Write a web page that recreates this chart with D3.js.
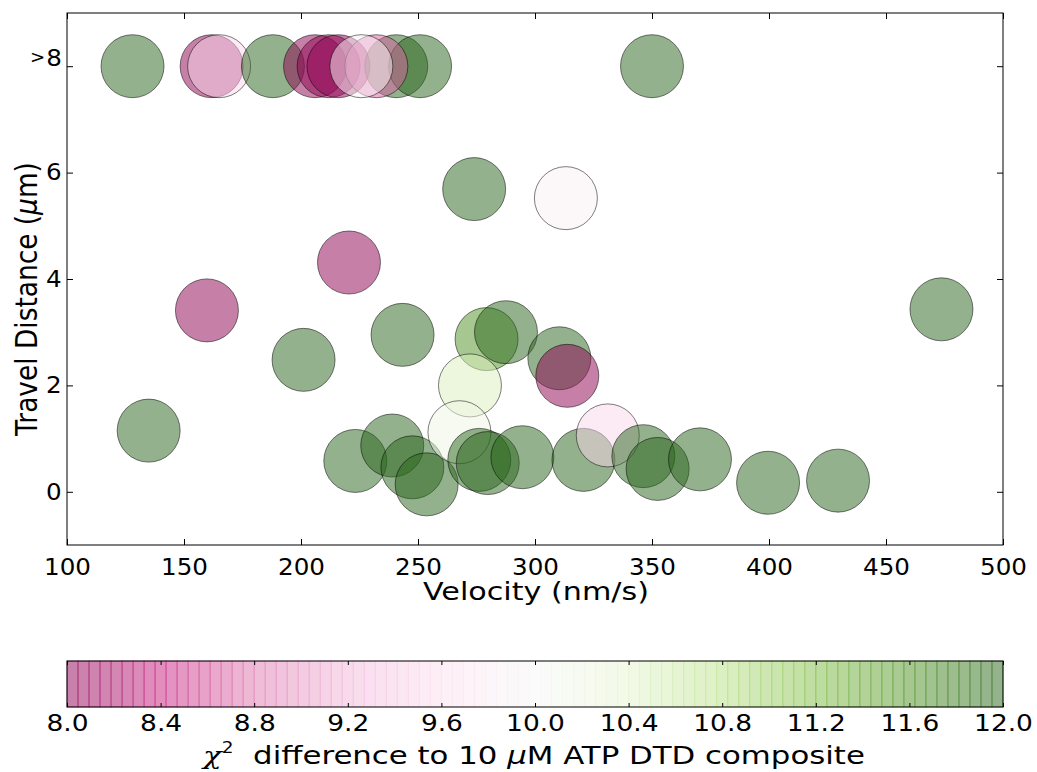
<!DOCTYPE html>
<html>
<head>
<meta charset="utf-8">
<script src="https://cdn.jsdelivr.net/npm/d3@7"></script>
<style>
  body { margin: 0; background: #fff; }
  text { font-family: "DejaVu Sans", sans-serif; fill: #000; }
</style>
</head>
<body>
<script>
// velocity (nm/s), travel distance (um, >8 shown at 8), chi^2 difference
var velocity = [128, 161.8, 165, 188, 206, 211.8, 216, 240.7, 250.9, 232.2, 225.8, 350,
  274, 313.2, 220.5, 159.8, 473.7, 243.4, 201.1, 134.9, 279.3, 287.6, 310.4, 313.8, 272.2,
  223.2, 239, 247.6, 253.7, 267.7, 276.2, 279.8, 294.6, 320.7, 331.1, 346.3, 352.4, 370.5, 399.6, 429.5];
var distance = [8, 8, 8, 8, 8, 8, 8, 8, 8, 8, 8, 8,
  5.69, 5.52, 4.31, 3.41, 3.43, 2.95, 2.48, 1.15, 2.87, 3.0, 2.51, 2.18, 2.0,
  0.58, 0.87, 0.46, 0.14, 1.12, 0.6, 0.54, 0.65, 0.6, 1.06, 0.67, 0.43, 0.61, 0.17, 0.21];
var chi2 = [12.5, 8.0, 9.5, 12.5, 7.8, 7.6, 7.9, 12.3, 12.4, 8.7, 9.9, 12.6,
  12.2, 9.9, 7.9, 8.0, 12.5, 12.4, 12.3, 12.5, 11.6, 12.2, 12.6, 7.7, 10.5,
  12.3, 12.5, 12.4, 12.2, 10.2, 12.3, 12.5, 12.4, 12.6, 9.5, 12.2, 12.5, 12.4, 12.3, 12.5];

var xTicks = [100, 150, 200, 250, 300, 350, 400, 450, 500];
var yTicks = [0, 2, 4, 6, 8];
var cbTicks = [8.0, 8.4, 8.8, 9.2, 9.6, 10.0, 10.4, 10.8, 11.2, 11.6, 12.0];

var piyg = ["#8e0152", "#c51b7d", "#de77ae", "#f1b6da", "#fde0ef", "#f7f7f7",
  "#e6f5d0", "#b8e186", "#7fbc41", "#4d9221", "#276419"];

var data = velocity.map(function(v, i) {
  return {v: v, d: distance[i], c: chi2[i]};
});

var W = 1037, H = 772;
var margin = {top: 13, left: 67, right: 34, bottom: 227};
var width = W - margin.left - margin.right,
    height = H - margin.top - margin.bottom;

var svg = d3.select("body").append("svg")
    .attr("width", W)
    .attr("height", H);

var x = d3.scaleLinear().domain([100, 500]).range([margin.left, margin.left + width]);
var y = d3.scaleLinear().domain([-1, 9]).range([margin.top + height, margin.top]);

var color = d3.scaleLinear()
    .domain(d3.range(11).map(function(i) { return 8 + i * 0.4; }))
    .range(piyg)
    .clamp(true);

svg.append("clipPath").attr("id", "clip")
  .append("rect")
    .attr("x", margin.left).attr("y", margin.top)
    .attr("width", width).attr("height", height);

svg.append("g")
    .attr("clip-path", "url(#clip)")
  .selectAll("circle")
    .data(data)
  .enter().append("circle")
    .attr("cx", function(d) { return x(d.v); })
    .attr("cy", function(d) { return y(d.d); })
    .attr("r", 31.5)
    .attr("fill", function(d) { return color(d.c); })
    .attr("fill-opacity", 0.5)
    .attr("stroke", "#000")
    .attr("stroke-opacity", 0.5)
    .attr("stroke-width", 1);

// axes with inward ticks on all sides
var tick = 6;
var xAxis = d3.axisBottom(x).tickValues(xTicks).tickSizeInner(-tick).tickSizeOuter(0).tickPadding(13.5);
var xTop = d3.axisTop(x).tickValues(xTicks).tickSizeInner(-tick).tickSizeOuter(0).tickFormat("");
var yAxis = d3.axisLeft(y).tickValues(yTicks).tickSizeInner(-tick).tickSizeOuter(0).tickPadding(5)
    .tickFormat(function(d) { return d === 8 ? "" : d; });
var yRight = d3.axisRight(y).tickValues(yTicks).tickSizeInner(-tick).tickSizeOuter(0).tickFormat("");

function style(size, sx) {
  return function(g) {
    g.select(".domain").remove();
    g.selectAll("line").attr("stroke", "#000").attr("stroke-width", 1);
    g.selectAll("text")
        .style("font-size", size + "px")
        .style("font-family", "DejaVu Sans")
        .attr("transform", "scale(" + sx + ",1)");
  };
}

svg.append("g").attr("transform", "translate(0," + (margin.top + height) + ")").call(xAxis).call(style(23, 1.07));
svg.append("g").attr("transform", "translate(0," + margin.top + ")").call(xTop).call(style(23, 1));
svg.append("g").attr("transform", "translate(" + margin.left + ",0)").call(yAxis).call(style(23, 1.07));
svg.append("g").attr("transform", "translate(" + (margin.left + width) + ",0)").call(yRight).call(style(23, 1));

// ">8" label
var t8 = svg.append("text")
    .attr("transform", "translate(" + (margin.left - 5) + "," + y(8) + ") scale(1.07,1)")
    .attr("dy", "0.32em")
    .attr("text-anchor", "end")
    .style("font-size", "23px");
t8.append("tspan").style("font-size", "17px").attr("dy", "-3").text(">");
t8.append("tspan").attr("dy", "3").attr("dx", "1").text("8");

svg.append("rect")
    .attr("x", margin.left).attr("y", margin.top)
    .attr("width", width).attr("height", height)
    .attr("fill", "none").attr("stroke", "#000").attr("stroke-width", 1);

// stretch a label horizontally (screen x) so its length matches the picture
function fit(sel, tx, ty, len, vertical) {
  var w = sel.node().getComputedTextLength();
  if (vertical) {
    sel.attr("transform", "translate(" + tx + "," + ty + ") scale(1.12," + (len / w) + ") rotate(-90)");
  } else {
    sel.attr("transform", "translate(" + tx + "," + ty + ") scale(" + (len / w) + ",1)");
  }
}

var xl = svg.append("text")
    .attr("text-anchor", "middle")
    .style("font-size", "25px")
    .text("Velocity (nm/s)");
fit(xl, 536, 600, 226, false);

var yl = svg.append("text")
    .attr("text-anchor", "middle")
    .style("font-size", "26.5px");
yl.append("tspan").text("Travel Distance (");
yl.append("tspan").style("font-style", "italic").text("μ");
yl.append("tspan").text("m)");
fit(yl, 37, 299, 274, true);

// colorbar
var cbTop = 661, cbH = 46;
var cx = d3.scaleLinear().domain([8, 12]).range([margin.left, margin.left + width]);
var nSeg = 85;
var segs = d3.range(nSeg).map(function(i) { return 8 + 4 * i / nSeg; });
var segW = width / nSeg;

svg.append("g").selectAll("rect")
    .data(segs)
  .enter().append("rect")
    .attr("x", function(d) { return cx(d); })
    .attr("y", cbTop)
    .attr("width", segW)
    .attr("height", cbH)
    .attr("fill", function(d) { return color(d + 2 / nSeg); })
    .attr("fill-opacity", 0.5)
    .attr("stroke", function(d) { return color(d + 2 / nSeg); })
    .attr("stroke-opacity", 0.4)
    .attr("stroke-width", 1);

var cbAxis = d3.axisBottom(cx).tickValues(cbTicks).tickSizeInner(-4).tickSizeOuter(0).tickPadding(8)
    .tickFormat(d3.format(".1f"));
var cbAxisTop = d3.axisTop(cx).tickValues(cbTicks).tickSizeInner(-4).tickSizeOuter(0).tickFormat("");
svg.append("g").attr("transform", "translate(0," + (cbTop + cbH) + ")").call(cbAxis).call(style(23, 1.15));
svg.append("g").attr("transform", "translate(0," + cbTop + ")").call(cbAxisTop).call(style(23, 1));

svg.append("rect")
    .attr("x", margin.left).attr("y", cbTop)
    .attr("width", width).attr("height", cbH)
    .attr("fill", "none").attr("stroke", "#000").attr("stroke-width", 1);

var cl = svg.append("text")
    .attr("text-anchor", "middle")
    .style("font-size", "25px");
cl.append("tspan").style("font-style", "italic").style("font-family", "DejaVu Serif").text("χ");
cl.append("tspan").attr("dy", "-11").style("font-size", "15px").text("2");
cl.append("tspan").attr("dy", "11").text("\u00a0 difference to 10 ");
cl.append("tspan").style("font-style", "italic").text("μ");
cl.append("tspan").text("M ATP DTD composite");
fit(cl, 534, 764, 662, false);
</script>
</body>
</html>
